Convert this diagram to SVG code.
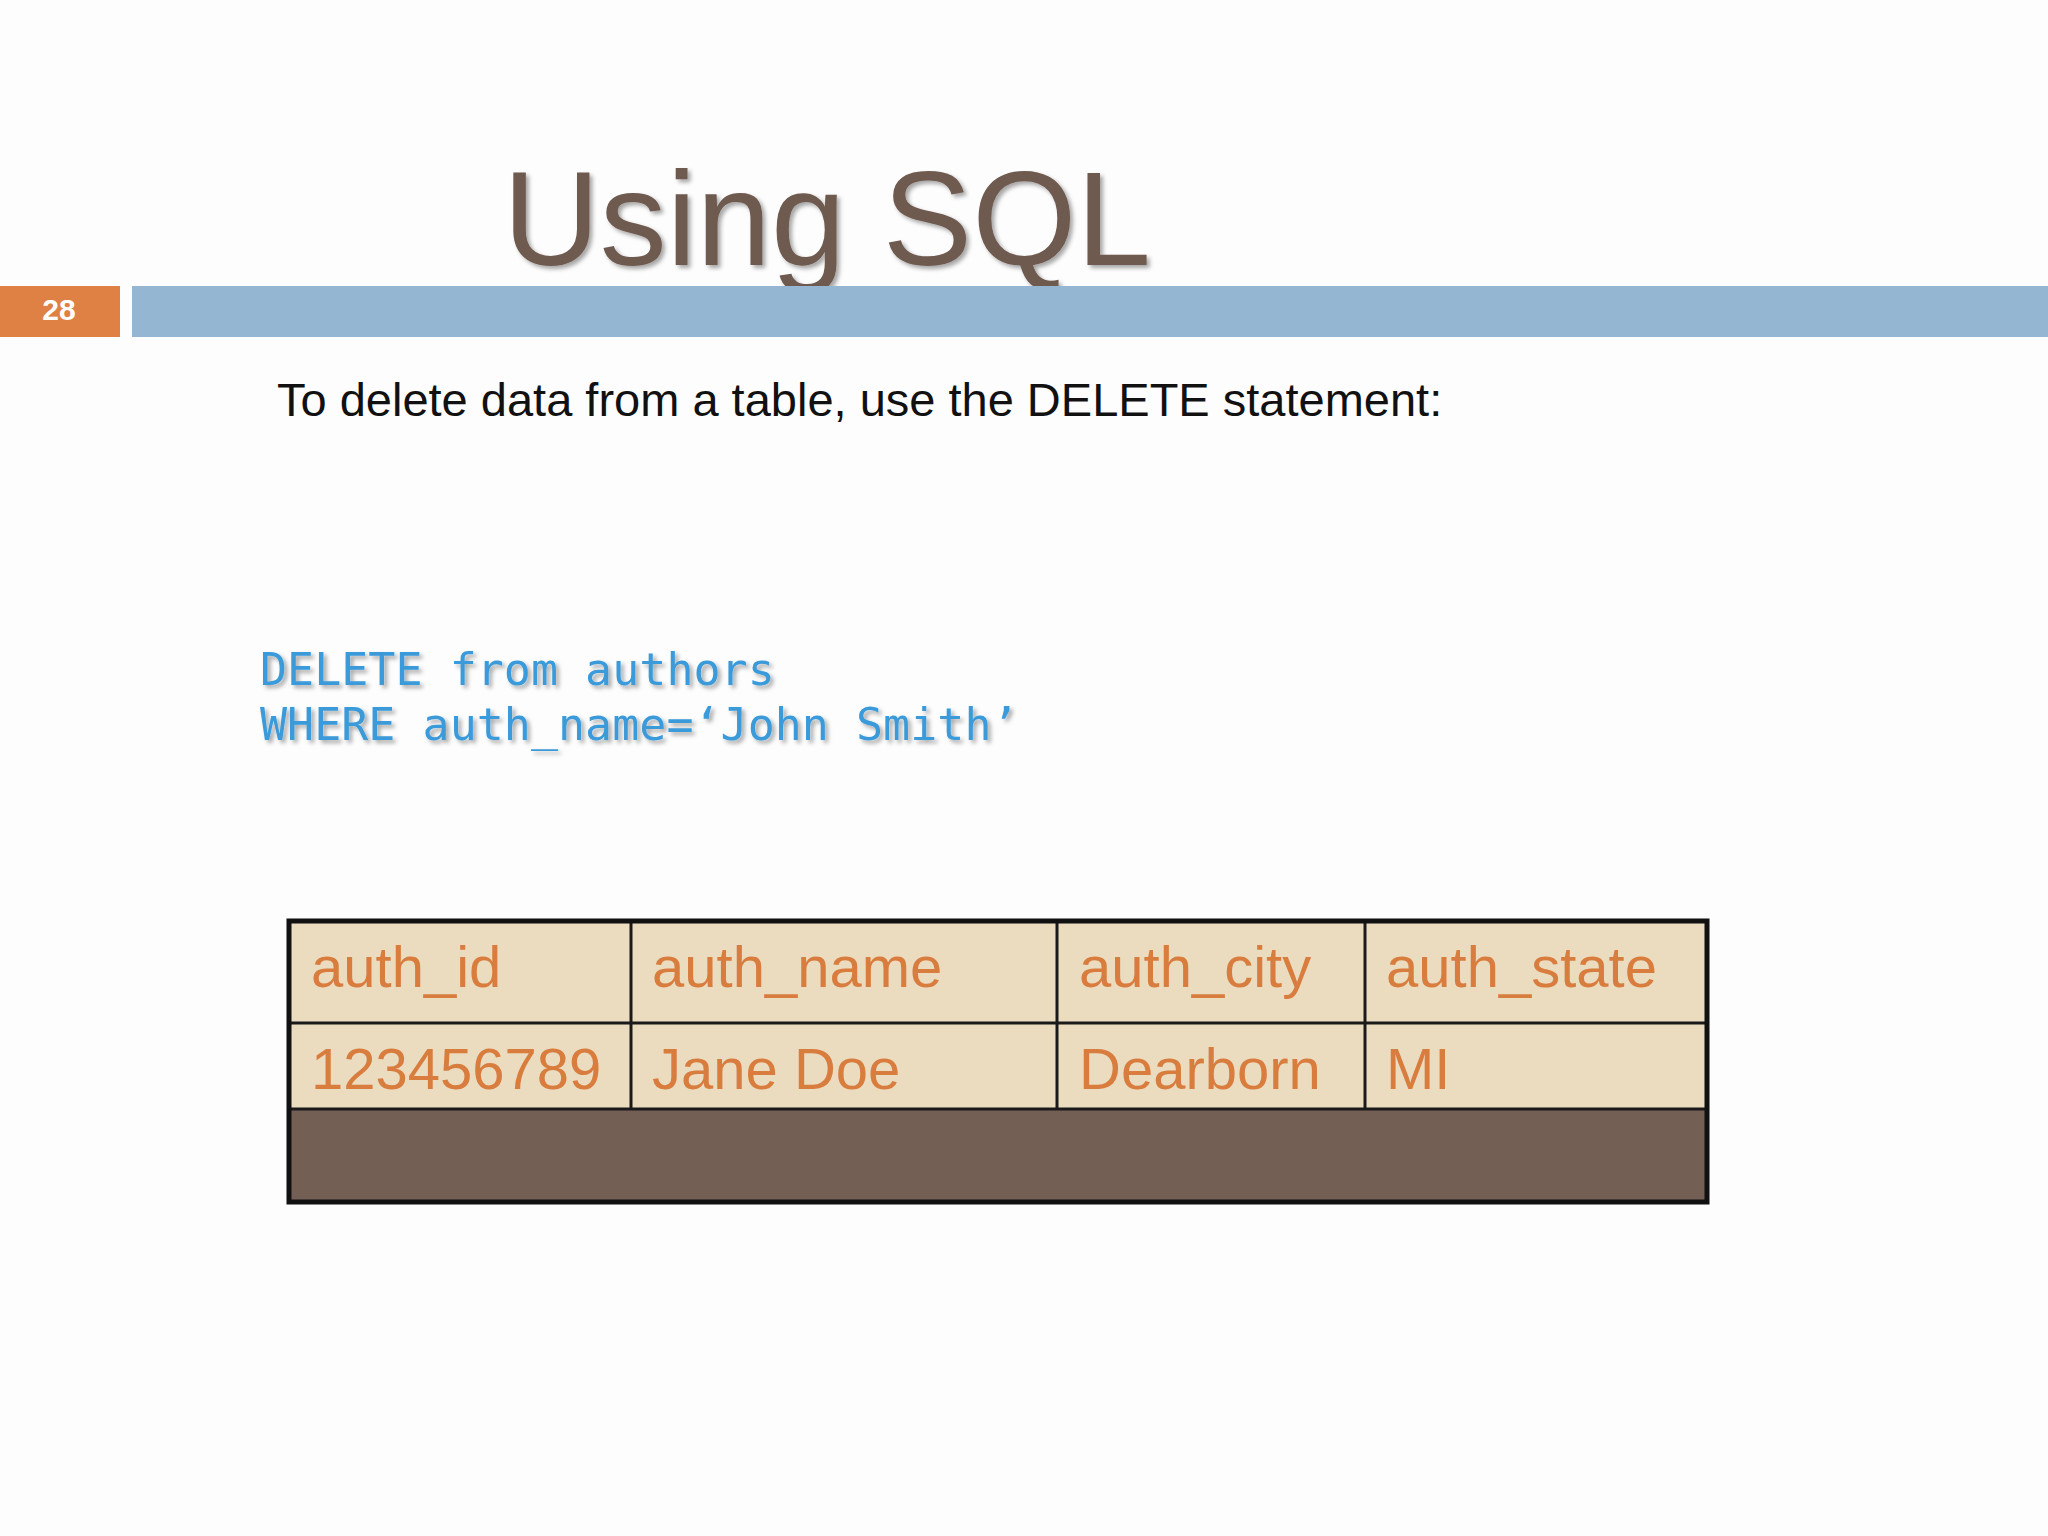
<svg xmlns="http://www.w3.org/2000/svg" width="2048" height="1536" viewBox="0 0 2048 1536">
<defs>
<filter id="sh" x="-5%" y="-5%" width="110%" height="120%"><feDropShadow dx="3" dy="3" stdDeviation="2" flood-color="#000" flood-opacity="0.35"/></filter>
<style>
.cell{font-family:"Liberation Sans",Arial,sans-serif;font-size:58px;fill:#d97d3f}
.code{font-family:"DejaVu Sans Mono","Liberation Mono",monospace;font-size:45px;fill:#3a9ad9}
</style>
</defs>
<rect width="2048" height="1536" fill="#fdfdfd"/>
<text x="503" y="265" font-family="Liberation Sans,Arial,sans-serif" font-size="134" fill="#6e5a50" filter="url(#sh)">Using SQL</text>
<g id="bar">
<rect x="0" y="286" width="120" height="51" fill="#df8045"/>
<text x="59" y="320" text-anchor="middle" font-family="Liberation Sans,Arial,sans-serif" font-weight="bold" font-size="30" fill="#fff">28</text>
<rect x="132" y="286" width="1916" height="51" fill="#94b6d2"/>
</g>
<text x="277" y="416" font-family="Liberation Sans,Arial,sans-serif" font-size="47" fill="#111">To delete data from a table, use the DELETE statement:</text>
<g id="code" filter="url(#sh)">
<text x="260" y="685" class="code">DELETE from authors</text>
<text x="260" y="740" class="code">WHERE auth_name=‘John Smith’</text>
</g>
<g id="table">
<rect x="289" y="921" width="1418" height="188" fill="#ebdcc0"/>
<rect x="289" y="1109" width="1418" height="93" fill="#745f55"/>
<g stroke="#1a1a1a" stroke-width="3">
<line x1="289" y1="1023" x2="1707" y2="1023"/>
<line x1="289" y1="1109" x2="1707" y2="1109"/>
<line x1="631" y1="921" x2="631" y2="1109"/>
<line x1="1057" y1="921" x2="1057" y2="1109"/>
<line x1="1365" y1="921" x2="1365" y2="1109"/>
</g>
<rect x="289" y="921" width="1418" height="281" fill="none" stroke="#111" stroke-width="5"/>
<text x="311" y="987" class="cell">auth_id</text>
<text x="652" y="987" class="cell">auth_name</text>
<text x="1079" y="987" class="cell">auth_city</text>
<text x="1386" y="987" class="cell">auth_state</text>
<text x="311" y="1089" class="cell">123456789</text>
<text x="652" y="1089" class="cell">Jane Doe</text>
<text x="1079" y="1089" class="cell">Dearborn</text>
<text x="1386" y="1089" class="cell">MI</text>
</g>
</svg>
